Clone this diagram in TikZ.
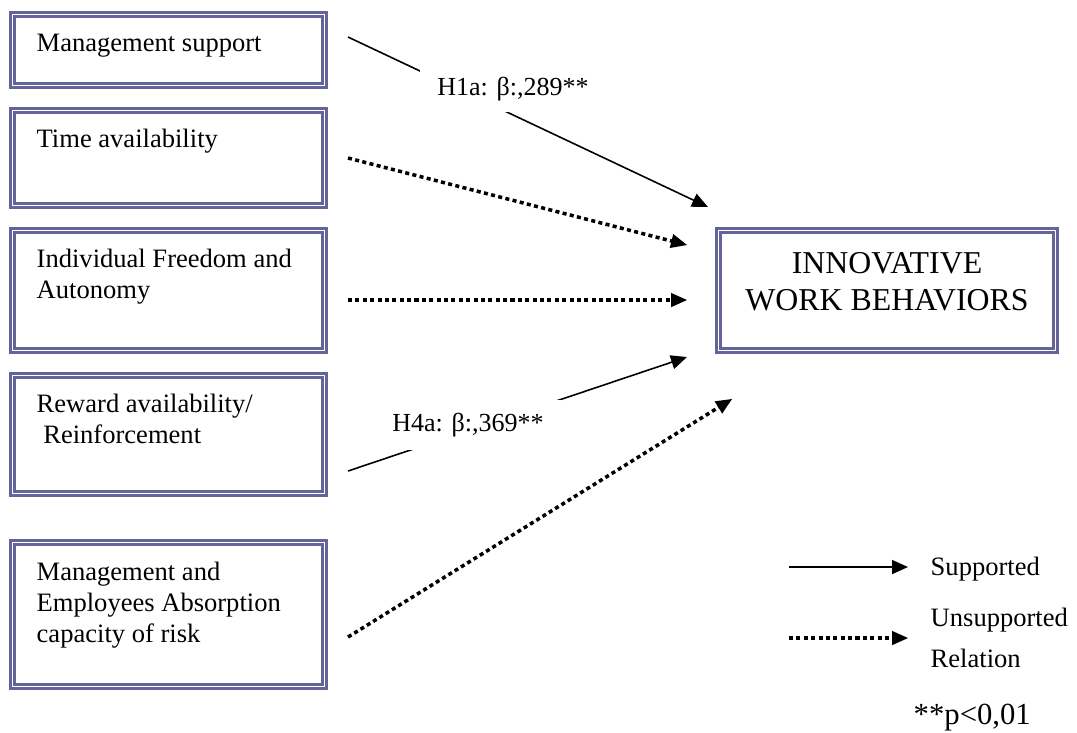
\documentclass[tikz,border=0pt]{standalone}
\usepackage{fontspec}
\setmainfont{Liberation Serif}
\usetikzlibrary{arrows.meta,positioning,calc}

\definecolor{boxblue}{RGB}{100,100,155}

\tikzset{
    factor/.style={draw=boxblue, double, line width=0.8pt, double distance=0.4pt,
        inner sep=0pt, minimum width=3.12cm},
    boxtext/.style={anchor=base west, inner sep=0pt, align=left,
        font=\fontsize{7.55pt}{8.8pt}\selectfont},
    bigtext/.style={anchor=base, inner sep=0pt, align=center,
        font=\fontsize{9.05pt}{10.5pt}\selectfont},
    coef/.style={fill=white, inner sep=0pt, font=\fontsize{7.4pt}{8.8pt}\selectfont},
    supp/.style={line width=0.45pt, -{Triangle[length=0.16cm, width=0.14cm]}},
    unsupp/.style={line width=1pt, dash pattern=on 1.15pt off 0.95pt,
        -{Triangle[length=0.16cm, width=0.14cm, line width=0.4pt]}},
}

\begin{document}
\begin{tikzpicture}[x=0.01cm, y=-0.01cm]
    \useasboundingbox (0,0) rectangle (1077,732);

    % Antecedent boxes
    \node[factor, minimum height=0.71cm] (ms) at (168.5,50) {};
    \node[factor, minimum height=0.95cm] (ta) at (168.5,158) {};
    \node[factor, minimum height=1.20cm] (ifa) at (168.5,290.5) {};
    \node[factor, minimum height=1.18cm] (ra) at (168.5,434.5) {};
    \node[factor, minimum height=1.44cm] (mea) at (168.5,614.5) {};

    % texts sit on the baseline of their last line
    \node[boxtext] (mstext) at (36,51) {Management support};
    \node[boxtext] (tatext) at (36,147) {Time availability};
    \node[boxtext] (ifatext) at (36,298) {Individual Freedom and\\Autonomy};
    \node[boxtext] (ratext) at (36,443) {Reward availability/\\\ Reinforcement};
    \node[boxtext] (meatext) at (36,642) {Management and\\Employees Absorption\\capacity of risk};

    % Outcome box
    \node[factor, minimum width=3.37cm, minimum height=1.20cm] (iwb) at (887,290.5) {};
    \node[bigtext] (iwbtext) at (887,310) {INNOVATIVE\\WORK BEHAVIORS};

    % Paths
    \coordinate (a1s) at (348,37);  \coordinate (a1e) at (708,207);
    \coordinate (a2s) at (348,158); \coordinate (a2e) at (687,245);
    \coordinate (a3s) at (348,300); \coordinate (a3e) at (687,300);
    \coordinate (a4s) at (348,471); \coordinate (a4e) at (687,357);
    \coordinate (a5s) at (348,637); \coordinate (a5e) at (732,399);

    \draw[supp] (a1s) -- (a1e);
    \draw[unsupp] (a2s) -- (a2e);
    \draw[unsupp] (a3s) -- (a3e);
    \draw[supp] (a4s) -- (a4e);
    \draw[unsupp] (a5s) -- (a5e);

    \node[coef, minimum width=1.86cm, minimum height=0.46cm] (h1a) at (513,89) {H1a: β:,289**};
    \node[coef, minimum width=1.85cm, minimum height=0.50cm] (h4a) at (468,425) {H4a: β:,369**};

    % Legend
    \coordinate (ls0) at (789,567); \coordinate (ls1) at (908,567);
    \coordinate (lu0) at (789,638); \coordinate (lu1) at (908,638);
    \draw[supp] (ls0) -- (ls1);
    \draw[unsupp] (lu0) -- (lu1);
    \node[boxtext] (suptext) at (930,575) {Supported};
    \node[boxtext, font=\fontsize{7.55pt}{11.4pt}\selectfont] (unstext) at (930,667) {Unsupported\\Relation};
    \node[boxtext, font=\fontsize{8.73pt}{10pt}\selectfont] (pval) at (913,724) {**p<0,01};
\end{tikzpicture}
\end{document}
